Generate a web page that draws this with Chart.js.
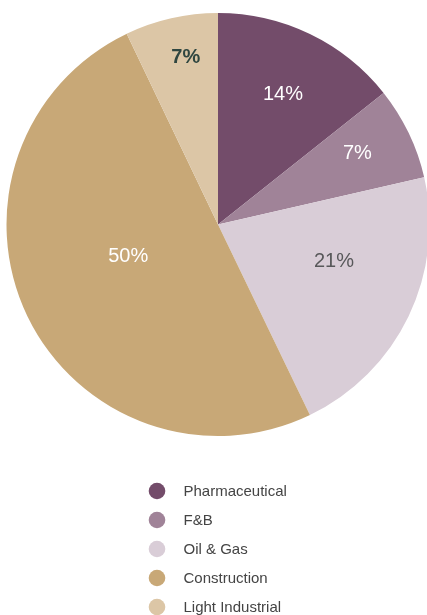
<!DOCTYPE html>
<html>
<head>
<meta charset="utf-8">
<script src="https://cdn.jsdelivr.net/npm/chart.js@4/dist/chart.umd.min.js"></script>
<style>
  html, body { margin: 0; padding: 0; background: #ffffff; overflow: hidden; width: 427px; height: 615px; }
  #wrap { position: relative; width: 436px; height: 615px; }
</style>
</head>
<body>
<div id="wrap"><canvas id="c" width="436" height="615"></canvas></div>
<script>
// ---- data ----
const categories = ["Pharmaceutical", "F&B", "Oil & Gas", "Construction", "Light Industrial"];
const shares = [14.3, 7.1, 21.4, 50.0, 7.1];

// ---- styles ----
const sliceColors = ["#734c6a", "#a08398", "#d9cdd7", "#c8a877", "#dcc6a6"];
const labelColors = ["#ffffff", "#ffffff", "#58585a", "#ffffff", "#2f4640"];
const labelWeights = ["normal", "normal", "normal", "normal", "bold"];
// label placement relative to each slice's mid angle: angle shift (deg), radius fraction
const labelPlacement = [
  { da: 0.6, rf: 0.692 },
  { da: -1.8, rf: 0.743 },
  { da: -8.4, rf: 0.574 },
  { da: 6.7, rf: 0.449 },
  { da: 1.9, rf: 0.808 }
];

const sliceLabels = {
  id: 'sliceLabels',
  afterDatasetsDraw(chart) {
    const ctx = chart.ctx;
    const meta = chart.getDatasetMeta(0);
    const vals = chart.data.datasets[0].data;
    const total = vals.reduce((a, b) => a + b, 0);
    ctx.save();
    ctx.textAlign = 'center';
    ctx.textBaseline = 'middle';
    meta.data.forEach((arc, i) => {
      const p = arc.getProps(['x', 'y', 'startAngle', 'endAngle', 'outerRadius'], true);
      const mid = (p.startAngle + p.endAngle) / 2 + labelPlacement[i].da * Math.PI / 180;
      const r = p.outerRadius * labelPlacement[i].rf;
      ctx.font = labelWeights[i] + ' 20px "Liberation Sans", Arial, sans-serif';
      ctx.fillStyle = labelColors[i];
      ctx.fillText(Math.round(vals[i] / total * 100) + '%', p.x + Math.cos(mid) * r, p.y + Math.sin(mid) * r + 1);
    });
    ctx.restore();
  }
};

const columnLegend = {
  id: 'columnLegend',
  afterDraw(chart) {
    const ctx = chart.ctx;
    const items = chart.legend.legendItems || [];
    ctx.save();
    ctx.font = '15px "Liberation Sans", Arial, sans-serif';
    ctx.textAlign = 'left';
    ctx.textBaseline = 'middle';
    items.forEach((it, i) => {
      const y = 491 + i * 29;
      ctx.fillStyle = it.fillStyle;
      ctx.beginPath();
      ctx.arc(157, y, 8.3, 0, Math.PI * 2);
      ctx.fill();
      ctx.fillStyle = '#444444';
      ctx.fillText(it.text, 183.5, y + 1);
    });
    ctx.restore();
  }
};

new Chart(document.getElementById('c'), {
  type: 'pie',
  data: {
    labels: categories,
    datasets: [{
      data: shares,
      backgroundColor: sliceColors,
      borderWidth: 0,
      hoverOffset: 0
    }]
  },
  options: {
    responsive: false,
    animation: false,
    events: [],
    layout: { padding: { top: 13, bottom: 179, left: 6.5, right: 6.5 } },
    plugins: {
      legend: { display: false },
      tooltip: { enabled: false }
    }
  },
  plugins: [sliceLabels, columnLegend]
});
</script>
</body>
</html>
